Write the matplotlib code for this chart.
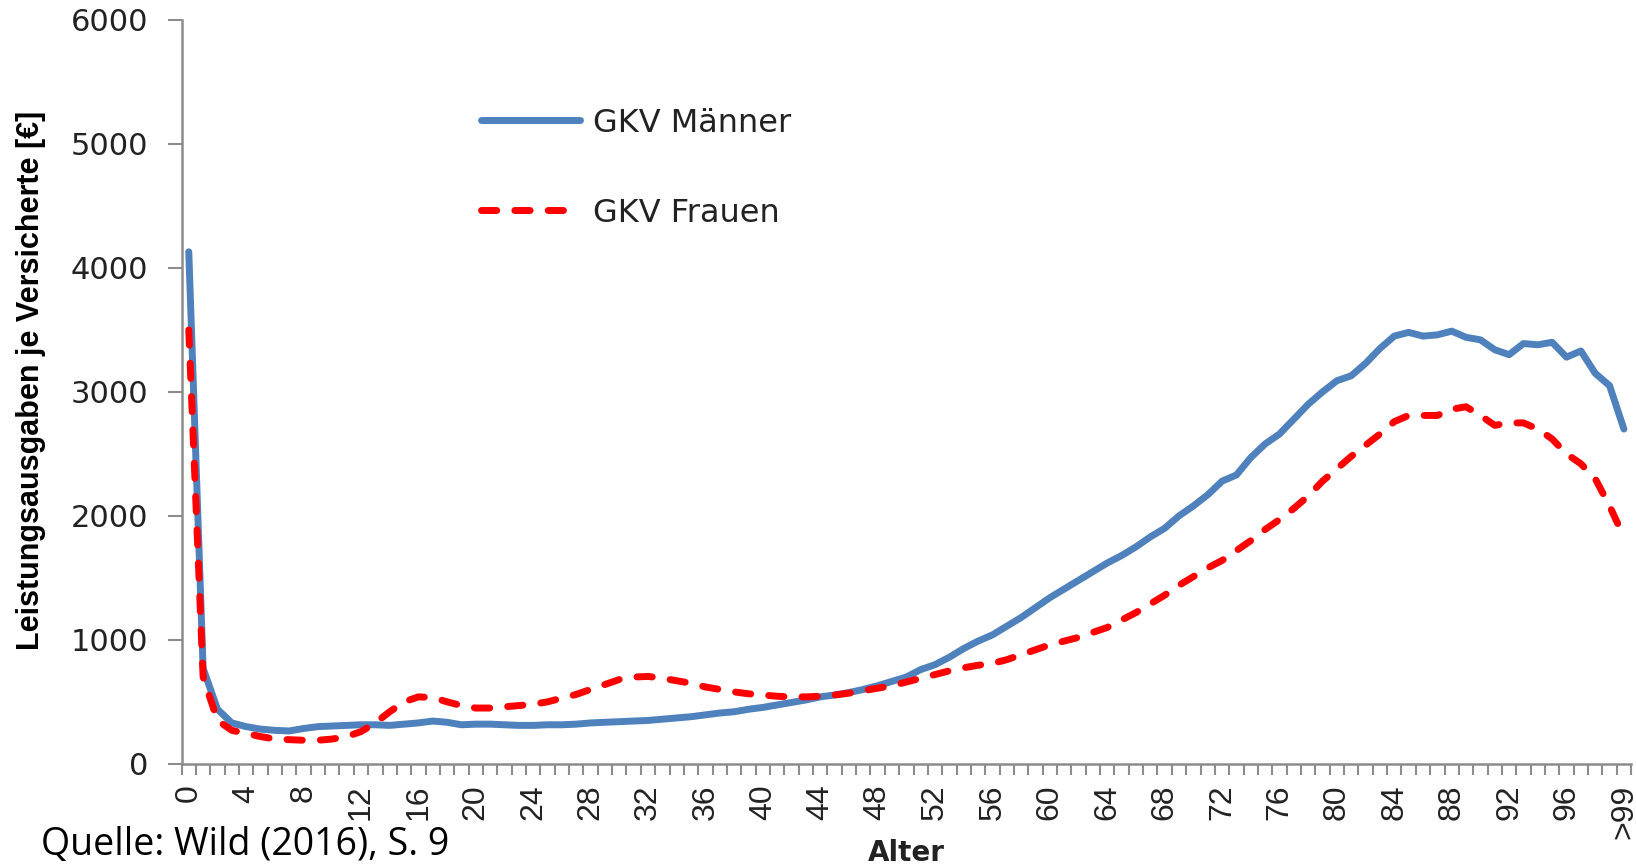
import numpy as np
import matplotlib.pyplot as plt

# Leistungsausgaben je Versicherte nach Alter
alter = np.arange(0, 101)
tick_pos = np.arange(0, 101, 4)
tick_labels = [str(a) for a in tick_pos[:-1]] + ['>99']

maenner = [4130, 770, 440, 330, 300, 280, 270, 265, 285, 300,
           305, 310, 315, 315, 310, 320, 330, 345, 335, 315,
           320, 320, 315, 310, 310, 315, 315, 320, 330, 335,
           340, 345, 350, 360, 370, 380, 395, 410, 420, 440,
           455, 475, 495, 515, 540, 555, 575, 600, 630, 665,
           700, 760, 800, 860, 930, 990, 1040, 1110, 1180, 1260,
           1340, 1410, 1480, 1550, 1620, 1680, 1750, 1830, 1900, 2000,
           2080, 2170, 2280, 2330, 2470, 2580, 2660, 2780, 2900, 3000,
           3090, 3130, 3230, 3350, 3450, 3480, 3450, 3460, 3490, 3440,
           3420, 3340, 3300, 3390, 3380, 3400, 3280, 3330, 3150, 3050,
           2700]

frauen = [3500, 700, 350, 270, 245, 220, 200, 195, 190, 190,
          200, 220, 260, 330, 420, 500, 540, 535, 500, 470,
          450, 450, 460, 470, 480, 500, 530, 560, 600, 640,
          680, 700, 705, 690, 670, 650, 620, 600, 580, 565,
          555, 545, 540, 540, 545, 555, 570, 590, 610, 630,
          660, 690, 720, 750, 775, 795, 810, 840, 880, 920,
          960, 990, 1020, 1060, 1100, 1160, 1220, 1290, 1360, 1440,
          1510, 1580, 1640, 1720, 1800, 1890, 1970, 2060, 2160, 2280,
          2380, 2480, 2570, 2660, 2760, 2810, 2810, 2810, 2860, 2880,
          2810, 2730, 2750, 2750, 2700, 2620, 2500, 2420, 2300, 2080,
          1830]

fig = plt.figure(figsize=(16.36, 8.67), dpi=100)
ax = fig.add_axes([0.111, 0.119, 0.886, 0.858])

ax.plot(alter, maenner, color='#4F81BD', lw=5, solid_capstyle='round',
        solid_joinstyle='round', label='GKV Männer')
ax.plot(alter, frauen, color='#FF0000', lw=5, linestyle=(0, (2.2, 2.6)),
        dash_capstyle='round', dash_joinstyle='round', label='GKV Frauen')

ax.set_xlim(-0.5, 100.5)
ax.set_ylim(0, 6000)
ax.set_yticks(np.arange(0, 6001, 1000))

ax.set_xticks(tick_pos)
ax.set_xticklabels(tick_labels, rotation=90, va='top',
                   family='Liberation Sans', fontsize=23, color='#222222')
ax.set_xticks(np.arange(-0.5, 101, 1), minor=True)
ax.tick_params(axis='x', which='major', length=0, pad=15)
ax.tick_params(axis='x', which='minor', length=8, width=1.5, color='#8c8c8c')
ax.tick_params(axis='y', length=10, width=1.5, color='#8c8c8c', pad=14,
               labelsize=22, labelcolor='#222222')

for s in ['top', 'right']:
    ax.spines[s].set_visible(False)
for s in ['left', 'bottom']:
    ax.spines[s].set_color('#8c8c8c')
    ax.spines[s].set_linewidth(1.8)

fig.text(0.019, 0.561, 'Leistungsausgaben je Versicherte [€]', rotation=90,
         ha='center', va='center', fontsize=22, fontweight='bold',
         family='Liberation Sans')
fig.text(0.554, 0.016, 'Alter', ha='center', va='center', fontsize=20,
         fontweight='bold', color='#222222')
fig.text(0.025, 0.025, 'Quelle: Wild (2016), S. 9', ha='left', va='center',
         fontsize=27, family='Open Sans')

fig.legend(loc='upper left', bbox_to_anchor=(0.294, 0.876), frameon=False,
           fontsize=23, handlelength=3.1, handletextpad=0.4,
           labelspacing=1.85, borderpad=0, borderaxespad=0,
           labelcolor='#222222')

fig.savefig('out.png', dpi=100)
